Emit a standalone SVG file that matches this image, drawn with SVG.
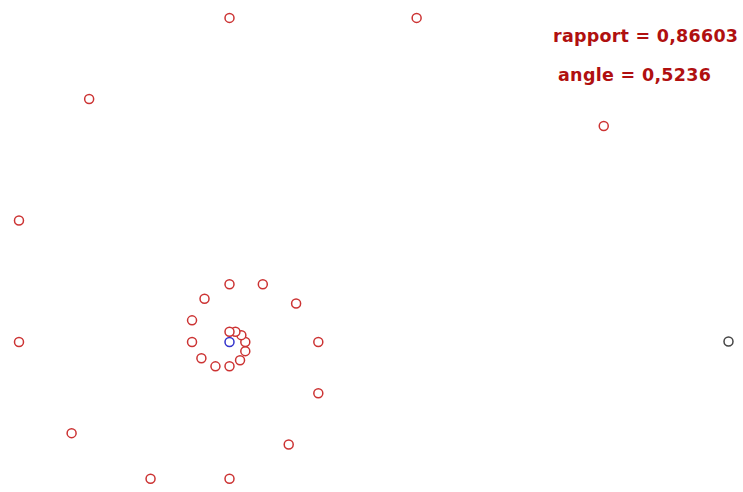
<svg xmlns="http://www.w3.org/2000/svg" width="743" height="492" viewBox="0 0 743 492">
<style>
.p{fill:#fff;stroke:#cc3333;stroke-width:1.5}
.s{fill:#fff;stroke:#444;stroke-width:1.5}
.c{fill:#fff;stroke:#3333cc;stroke-width:1.5}
.t{font-family:"DejaVu Sans",sans-serif;font-weight:bold;font-size:17.5px;fill:#b01010}
</style>
<rect width="743" height="492" fill="#fff"/>
<g id="labels">
<text class="t" x="553" y="42" textLength="185" lengthAdjust="spacing">rapport = 0,86603</text>
<text class="t" x="558" y="81" textLength="153" lengthAdjust="spacing">angle = 0,5236</text>
</g>
<g id="connectors"></g>
<g id="points">
<circle id="p1" class="p" cx="603.75" cy="125.92" r="4.5"/>
<circle id="p2" class="p" cx="416.63" cy="17.89" r="4.5"/>
<circle id="p3" class="p" cx="229.5" cy="17.89" r="4.5"/>
<circle id="p4" class="p" cx="89.15" cy="98.92" r="4.5"/>
<circle id="p5" class="p" cx="18.98" cy="220.46" r="4.5"/>
<circle id="p6" class="p" cx="19" cy="342" r="4.5"/>
<circle id="p7" class="p" cx="71.61" cy="433.16" r="4.5"/>
<circle id="p8" class="p" cx="150.55" cy="478.74" r="4.5"/>
<circle id="p9" class="p" cx="229.5" cy="478.73" r="4.5"/>
<circle id="p10" class="p" cx="288.71" cy="444.55" r="4.5"/>
<circle id="p11" class="p" cx="318.31" cy="393.28" r="4.5"/>
<circle id="p12" class="p" cx="318.31" cy="342" r="4.5"/>
<circle id="p13" class="p" cx="296.11" cy="303.54" r="4.5"/>
<circle id="p14" class="p" cx="262.81" cy="284.31" r="4.5"/>
<circle id="p15" class="p" cx="229.5" cy="284.32" r="4.5"/>
<circle id="p16" class="p" cx="204.52" cy="298.73" r="4.5"/>
<circle id="p17" class="p" cx="192.04" cy="320.37" r="4.5"/>
<circle id="p18" class="p" cx="192.03" cy="342" r="4.5"/>
<circle id="p19" class="p" cx="201.4" cy="358.23" r="4.5"/>
<circle id="p20" class="p" cx="215.45" cy="366.34" r="4.5"/>
<circle id="p21" class="p" cx="229.5" cy="366.33" r="4.5"/>
<circle id="p22" class="p" cx="240.04" cy="360.25" r="4.5"/>
<circle id="p23" class="p" cx="245.3" cy="351.13" r="4.5"/>
<circle id="p24" class="p" cx="245.31" cy="342" r="4.5"/>
<circle id="p25" class="p" cx="241.36" cy="335.15" r="4.5"/>
<circle id="p26" class="p" cx="235.43" cy="331.73" r="4.5"/>
<circle id="p27" class="p" cx="229.5" cy="331.73" r="4.5"/>
</g>
<g id="start"><circle class="s" cx="728.5" cy="341.5" r="4.5"/></g>
<g id="center"><circle class="c" cx="229.5" cy="342" r="4.5"/></g>
</svg>
